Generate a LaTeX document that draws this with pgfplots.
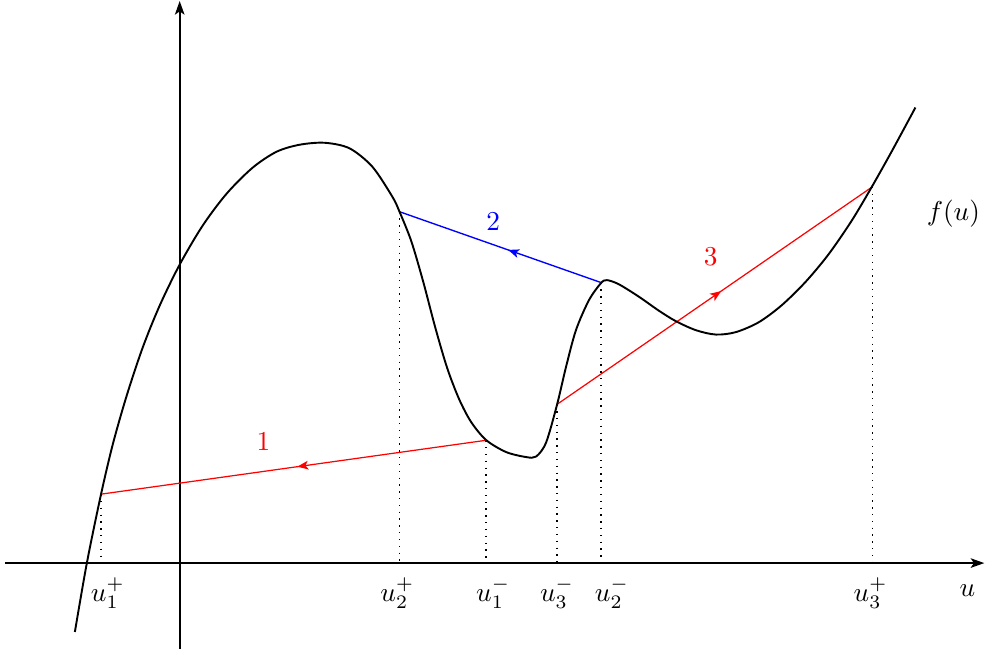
\documentclass[border=0pt]{standalone}
\usepackage{pgfplots}
\pgfplotsset{compat=1.18}
\usetikzlibrary{decorations.markings, arrows.meta}

\tikzset{
  midarrow/.style={postaction={decorate}, decoration={markings,
    mark=at position #1 with {\arrow{Stealth[length=4pt, width=3.2pt, inset=1pt]}}}},
}

\begin{document}
\begin{tikzpicture}
\begin{axis}[
  scale only axis, width=362pt, height=240.5pt,
  xmin=0, xmax=989, ymin=0, ymax=657, y dir=reverse,
  hide axis, clip=false,
]
\path (axis cs:0,0) rectangle (axis cs:989,657);
% axes
\addplot[line width=0.65pt, -{Stealth[length=5pt, width=3.5pt, inset=1.2pt]}] coordinates {(5,564)(986,564)};
\addplot[line width=0.65pt, -{Stealth[length=5pt, width=3.5pt, inset=1.2pt]}] coordinates {(180,650)(180,1)};
% dotted drops
\addplot[dotted, line width=0.5pt] coordinates {(101,495)(101,564)};
\addplot[dotted, line width=0.5pt] coordinates {(400,212)(400,564)};
\addplot[dotted, line width=0.5pt] coordinates {(487,441)(487,564)};
\addplot[dotted, line width=0.5pt] coordinates {(558,405)(558,564)};
\addplot[dotted, line width=0.5pt] coordinates {(602,283)(602,564)};
\addplot[dotted, line width=0.5pt] coordinates {(874,187)(874,564)};
% chords
\addplot[red, line width=0.45pt, midarrow=0.49] coordinates {(487,441)(101,495)};
\addplot[blue, line width=0.5pt, midarrow=0.46] coordinates {(602,283)(400,212)};
\addplot[red, line width=0.45pt, midarrow=0.52] coordinates {(558,405)(874,187)};
% flux function
\addplot[black, line width=0.7pt, smooth] coordinates {
  (75,633)(87,564)(101,496)(113,445)(127,396)(143,348)(160,306)(180,265)
  (203,226)(227,194)(253,168)(277,152)(300,145)(325,143)(350,148.5)(373,167)
  (393,197)(400,211.6)(412,241.6)(424,282.4)(436,328)(448,368.8)(460,400)
  (472,422.8)(487,440.8)(507,452.8)(527,457.8)(537,457.3)(547,443.3)
  (558,405.3)(567,367.5)(577,330.5)(590,300.6)(602,283.6)(608,280.6)
  (620,284.8)(640,297.2)(660,311.2)(677,321.7)(697,330.7)(717,335.1)
  (737,332.7)(760,322.8)(783,305.8)(807,282.3)(830,254.7)(853,221.3)
  (873,187.7)(893,152.1)(917,107.7)
};
% labels
\node[red] at (axis cs:264,442) {$1$};
\node[blue] at (axis cs:494,222) {$2$};
\node[red] at (axis cs:712,257) {$3$};
\node at (axis cs:955,214) {$f(u)$};
\node at (axis cs:969,592) {$u$};
\node at (axis cs:108,594) {$u_1^+$};
\node at (axis cs:398,594) {$u_2^+$};
\node at (axis cs:494,594) {$u_1^-$};
\node at (axis cs:558,594) {$u_3^-$};
\node at (axis cs:613,594) {$u_2^-$};
\node at (axis cs:872,594) {$u_3^+$};
\end{axis}
\end{tikzpicture}
\end{document}
